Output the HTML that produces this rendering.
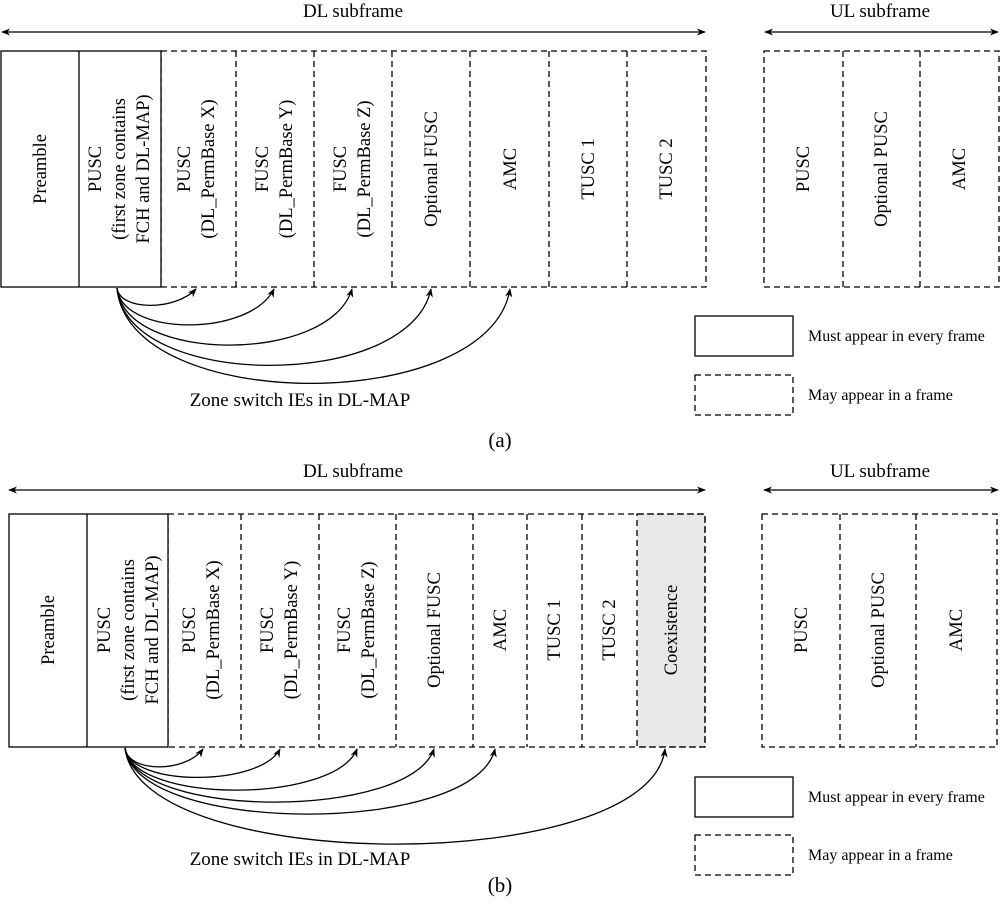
<!DOCTYPE html>
<html><head><meta charset="utf-8"><style>
html,body{margin:0;padding:0;background:#fff;}
svg{display:block;font-family:"Liberation Serif",serif;}
</style></head><body>
<svg width="1000" height="913" viewBox="0 0 1000 913" xmlns="http://www.w3.org/2000/svg">
<defs>
<marker id="ah" viewBox="0 0 10 10" refX="9" refY="5" markerWidth="9" markerHeight="9" orient="auto-start-reverse" markerUnits="userSpaceOnUse"><path d="M0,1 L10,5 L0,9 L3,5 z" fill="#000"/></marker>
</defs>
<g fill="none" stroke="#000" stroke-width="1.3">
<line x1="2" y1="32" x2="705" y2="32" marker-start="url(#ah)" marker-end="url(#ah)"/>
<line x1="765" y1="32" x2="998" y2="32" marker-start="url(#ah)" marker-end="url(#ah)"/>
<g stroke-dasharray="6,4">
<rect x="161" y="51" width="545" height="236"/>
<line x1="236" y1="51" x2="236" y2="287"/><line x1="314" y1="51" x2="314" y2="287"/>
<line x1="392" y1="51" x2="392" y2="287"/><line x1="470" y1="51" x2="470" y2="287"/>
<line x1="549" y1="51" x2="549" y2="287"/><line x1="627" y1="51" x2="627" y2="287"/>
<rect x="764" y="51" width="235" height="236"/>
<line x1="843" y1="51" x2="843" y2="287"/><line x1="920" y1="51" x2="920" y2="287"/>
<rect x="695" y="375" width="98" height="40"/>
</g>
<rect x="1" y="51" width="160" height="236" fill="#fff"/>
<line x1="79" y1="51" x2="79" y2="287"/>
<rect x="695" y="316" width="98" height="40"/>
<path d="M117,288 C120,311 175,311 196,289" marker-end="url(#ah)"/>
<path d="M117,288 C122,337 250,337 274,289" marker-end="url(#ah)"/>
<path d="M117,288 C124,364 330,364 352,289" marker-end="url(#ah)"/>
<path d="M117,288 C126,391 410,391 431,289" marker-end="url(#ah)"/>
<path d="M117,288 C128,415 490,415 510,289" marker-end="url(#ah)"/>

<line x1="9" y1="490" x2="705" y2="490" marker-start="url(#ah)" marker-end="url(#ah)"/>
<line x1="764" y1="490" x2="998" y2="490" marker-start="url(#ah)" marker-end="url(#ah)"/>
<g stroke-dasharray="6,4">
<rect x="637" y="514" width="68" height="233" fill="#e8e8e8"/>
<rect x="168" y="514" width="537" height="233"/>
<line x1="241" y1="514" x2="241" y2="747"/><line x1="319" y1="514" x2="319" y2="747"/>
<line x1="396" y1="514" x2="396" y2="747"/><line x1="473" y1="514" x2="473" y2="747"/>
<line x1="527" y1="514" x2="527" y2="747"/><line x1="582" y1="514" x2="582" y2="747"/>
<rect x="762" y="514" width="235" height="233"/>
<line x1="840" y1="514" x2="840" y2="747"/><line x1="916" y1="514" x2="916" y2="747"/>
<rect x="695" y="835" width="98" height="40"/>
</g>
<rect x="9" y="514" width="159" height="233" fill="#fff"/>
<line x1="87" y1="514" x2="87" y2="747"/>
<rect x="695" y="777" width="98" height="40"/>
<path d="M125,748 C128,773 185,773 203,749" marker-end="url(#ah)"/>
<path d="M125,748 C130,787 260,787 280,749" marker-end="url(#ah)"/>
<path d="M125,748 C132,804 335,804 357,749" marker-end="url(#ah)"/>
<path d="M125,748 C134,820 410,820 434,749" marker-end="url(#ah)"/>
<path d="M125,748 C136,836 475,836 495,749" marker-end="url(#ah)"/>
<path d="M125,748 C140,876 650,876 665,749" marker-end="url(#ah)"/>
</g>

<g font-size="19" fill="#000" text-anchor="middle">
<text x="353" y="17">DL subframe</text>
<text x="880" y="17">UL subframe</text>
<text x="300" y="406">Zone switch IEs in DL-MAP</text>
<text x="500" y="447" font-size="21">(a)</text>
<text x="353" y="477">DL subframe</text>
<text x="880" y="477">UL subframe</text>
<text x="300" y="865">Zone switch IEs in DL-MAP</text>
<text x="500" y="892" font-size="21">(b)</text>
</g>
<g font-size="16" fill="#000">
<text x="808" y="341">Must appear in every frame</text>
<text x="808" y="400">May appear in a frame</text>
<text x="808" y="802">Must appear in every frame</text>
<text x="808" y="860">May appear in a frame</text>
</g>

<g font-size="18.5" fill="#000" text-anchor="middle">
<text transform="translate(46,169) rotate(-90)">Preamble</text>
<text transform="translate(101,169) rotate(-90)">PUSC</text>
<text transform="translate(125,169) rotate(-90)">(first zone contains</text>
<text transform="translate(149,169) rotate(-90)">FCH and DL-MAP)</text>
<text transform="translate(190,169) rotate(-90)">PUSC</text>
<text transform="translate(214,169) rotate(-90)">(DL_PermBase X)</text>
<text transform="translate(268,169) rotate(-90)">FUSC</text>
<text transform="translate(292,169) rotate(-90)">(DL_PermBase Y)</text>
<text transform="translate(346,169) rotate(-90)">FUSC</text>
<text transform="translate(370,169) rotate(-90)">(DL_PermBase Z)</text>
<text transform="translate(437,169) rotate(-90)">Optional FUSC</text>
<text transform="translate(516,169) rotate(-90)">AMC</text>
<text transform="translate(594,169) rotate(-90)">TUSC 1</text>
<text transform="translate(672,169) rotate(-90)">TUSC 2</text>
<text transform="translate(809,169) rotate(-90)">PUSC</text>
<text transform="translate(887,169) rotate(-90)">Optional PUSC</text>
<text transform="translate(965,169) rotate(-90)">AMC</text>
</g>
<g font-size="18.5" fill="#000" text-anchor="middle">
<text transform="translate(54,630) rotate(-90)">Preamble</text>
<text transform="translate(110,630) rotate(-90)">PUSC</text>
<text transform="translate(134,630) rotate(-90)">(first zone contains</text>
<text transform="translate(158,630) rotate(-90)">FCH and DL-MAP)</text>
<text transform="translate(195,630) rotate(-90)">PUSC</text>
<text transform="translate(219,630) rotate(-90)">(DL_PermBase X)</text>
<text transform="translate(273,630) rotate(-90)">FUSC</text>
<text transform="translate(297,630) rotate(-90)">(DL_PermBase Y)</text>
<text transform="translate(350,630) rotate(-90)">FUSC</text>
<text transform="translate(374,630) rotate(-90)">(DL_PermBase Z)</text>
<text transform="translate(440,630) rotate(-90)">Optional FUSC</text>
<text transform="translate(506,630) rotate(-90)">AMC</text>
<text transform="translate(560,630) rotate(-90)">TUSC 1</text>
<text transform="translate(615,630) rotate(-90)">TUSC 2</text>
<text transform="translate(677,630) rotate(-90)">Coexistence</text>
<text transform="translate(807,630) rotate(-90)">PUSC</text>
<text transform="translate(884,630) rotate(-90)">Optional PUSC</text>
<text transform="translate(962,630) rotate(-90)">AMC</text>
</g>
</svg>
</body></html>
